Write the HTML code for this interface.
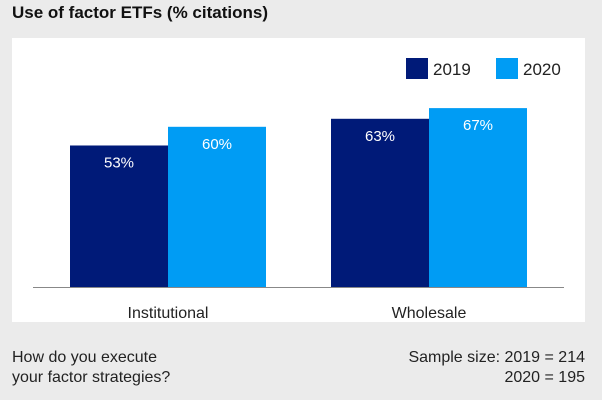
<!DOCTYPE html>
<html><head><meta charset="utf-8"><style>
body{margin:0;width:602px;height:400px;background:#ebebeb;font-family:"Liberation Sans",sans-serif;overflow:hidden;position:relative}
</style></head><body>
<div style="position:absolute;left:12px;top:3px;font-size:17px;font-weight:bold;color:#111">Use of factor ETFs (% citations)</div>
<svg id="c" width="602" height="400" style="position:absolute;left:0;top:0">
<rect x="12" y="38" width="573" height="284" fill="#fff"/>
</svg>
<div style="position:absolute;left:12px;top:348px;font-size:16px;line-height:20px;color:#222">How do you execute<br>your factor strategies?</div>
<div style="position:absolute;right:17px;top:348px;font-size:16px;line-height:20px;color:#222;text-align:right">Sample size: 2019 = 214<br>2020 = 195</div>
<script>
const categories=["Institutional","Wholesale"];
const series=["2019","2020"];
const values2019=[53,63];
const values2020=[60,67];
const colors=["#001a78","#009cf4"];
const svg=document.getElementById('c');
const NS='http://www.w3.org/2000/svg';
const base=287, scale=2.67;
const y=v=>base-v*scale;
const groupX=[70,331], bw=98;
function mk(t,a){const e=document.createElementNS(NS,t);for(const k in a)e.setAttribute(k,a[k]);svg.appendChild(e);return e;}
[values2019,values2020].forEach((vals,s)=>{
 vals.forEach((v,i)=>{
  const x=groupX[i]+s*bw;
  const r=mk('rect',{x:x,y:y(v),width:bw,height:base-y(v),fill:colors[s]});
  
  
  const t=mk('text',{x:x+bw/2,y:y(v)+22,'text-anchor':'middle','font-size':15,fill:'#fff'});
  t.textContent=v+'%';
  
  
 });
});
const ax=mk('line',{x1:33,x2:564,y1:base+0.5,y2:base+0.5,stroke:'#888','stroke-width':1});


categories.forEach((c,i)=>{
 const t=mk('text',{x:groupX[i]+bw,y:318,'text-anchor':'middle','font-size':16,fill:'#222'});
 t.textContent=c;
 
 
});
const lx=[406,496];
series.forEach((s,i)=>{
 const r=mk('rect',{x:lx[i],y:58,width:22,height:21,fill:colors[i]});
 
 
 const t=mk('text',{x:lx[i]+27,y:75,'font-size':17,fill:'#222'});
 t.textContent=s;
 
 
});
</script>
</body></html>
